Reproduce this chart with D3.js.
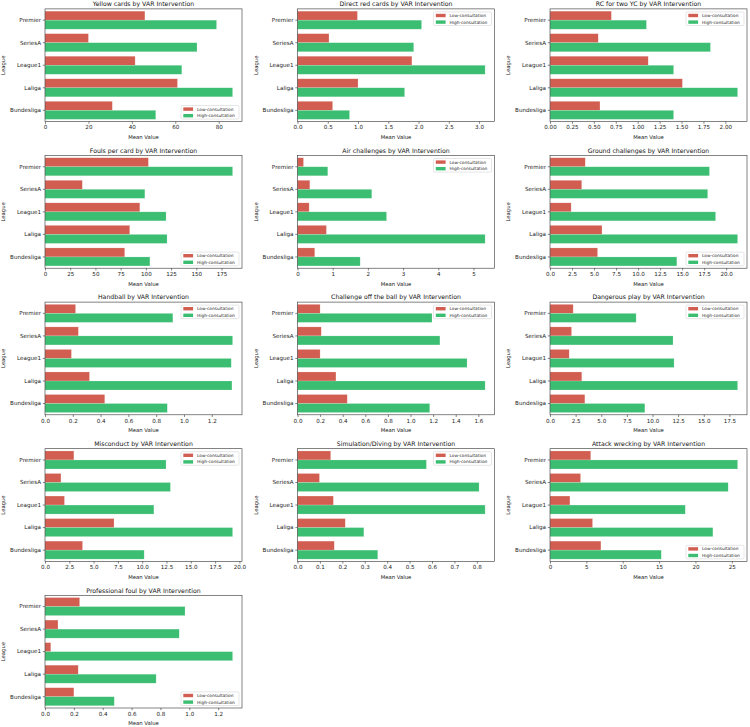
<!DOCTYPE html>
<html>
<head>
<meta charset="utf-8">
<script src="https://cdn.jsdelivr.net/npm/d3@7"></script>
<style>
  body { margin: 0; background: #fff; }
  svg { display: block; font-family: "DejaVu Sans", sans-serif; }
</style>
</head>
<body>
<div id="chart"></div>
<script>
const leagues = ["Premier", "SeriesA", "League1", "Laliga", "Bundesliga"];
const series = ["Low-consultation", "High-consultation"];
const metrics = [
    "Yellow cards", "Direct red cards", "RC for two YC",
    "Fouls per card", "Air challenges", "Ground challenges",
    "Handball", "Challenge off the ball", "Dangerous play",
    "Misconduct", "Simulation/Diving", "Attack wrecking",
    "Professional foul"
];
const lowConsult = [
    [46, 20, 41.5, 61, 31],
    [0.99, 0.52, 1.89, 1.00, 0.58],
    [0.70, 0.55, 1.12, 1.51, 0.57],
    [102.5, 37, 94, 84, 79],
    [0.17, 0.35, 0.33, 0.82, 0.49],
    [4.0, 3.6, 2.4, 5.9, 5.4],
    [0.22, 0.24, 0.19, 0.32, 0.43],
    [0.20, 0.21, 0.20, 0.34, 0.44],
    [2.26, 2.1, 1.87, 3.1, 3.4],
    [2.97, 1.64, 2.0, 7.1, 3.86],
    [0.148, 0.098, 0.16, 0.213, 0.164],
    [5.6, 4.2, 2.74, 5.85, 7.0],
    [0.24, 0.09, 0.04, 0.23, 0.20]
];
const highConsult = [
    [79, 70, 63, 86.4, 51],
    [2.05, 1.92, 3.10, 1.77, 0.86],
    [1.10, 1.83, 1.41, 2.14, 1.41],
    [186, 99, 120, 121, 104],
    [0.86, 2.11, 2.53, 5.33, 1.78],
    [18.1, 17.9, 18.8, 21.3, 14.4],
    [0.92, 1.35, 1.34, 1.345, 0.88],
    [1.19, 1.26, 1.50, 1.66, 1.17],
    [8.4, 12.0, 12.1, 18.3, 9.25],
    [12.45, 12.9, 11.2, 19.3, 10.2],
    [0.575, 0.81, 0.837, 0.296, 0.358],
    [25.8, 24.5, 18.6, 22.4, 15.3],
    [0.97, 0.93, 1.30, 0.77, 0.48]
];
const xTicks = [
    [0, 20, 40, 60, 80],
    [0, 0.5, 1, 1.5, 2, 2.5, 3],
    [0, 0.25, 0.5, 0.75, 1, 1.25, 1.5, 1.75, 2],
    [0, 25, 50, 75, 100, 125, 150, 175],
    [0, 1, 2, 3, 4, 5],
    [0, 2.5, 5, 7.5, 10, 12.5, 15, 17.5, 20],
    [0, 0.2, 0.4, 0.6, 0.8, 1, 1.2],
    [0, 0.2, 0.4, 0.6, 0.8, 1, 1.2, 1.4, 1.6],
    [0, 2.5, 5, 7.5, 10, 12.5, 15, 17.5],
    [0, 2.5, 5, 7.5, 10, 12.5, 15, 17.5, 20],
    [0, 0.1, 0.2, 0.3, 0.4, 0.5, 0.6, 0.7, 0.8],
    [0, 5, 10, 15, 20, 25],
    [0, 0.2, 0.4, 0.6, 0.8, 1, 1.2]
];
// where matplotlib's "best" put the legend in each panel
const legendLoc = ["lower", "upper", "upper", "lower", "upper", "lower", "upper",
    "upper", "upper", "upper", "upper", "lower", "lower"];

const colors = ["#d15e51", "#3bbe72"];
const width = 750, height = 727;
const colLeft = [45, 297.5, 550];
const plotW = 197, plotH = 112.7;
const rowTop0 = 8.9, rowPitch = 146.6;

const svg = d3.select("#chart").append("svg")
    .attr("width", width)
    .attr("height", height);

function decimalsOf(ticks) {
    let d = 0;
    while (d < 4 && ticks.some(t => Math.abs(Math.round(t * 10 ** d) - t * 10 ** d) > 1e-6)) d++;
    return d;
}

metrics.forEach((metric, i) => {
    const left = colLeft[i % 3];
    const top = rowTop0 + Math.floor(i / 3) * rowPitch;
    const bottom = top + plotH;
    const low = lowConsult[i], high = highConsult[i];
    const maxVal = d3.max(low.concat(high));

    const x = d3.scaleLinear()
        .domain([0, maxVal * 1.05])
        .range([left, left + plotW]);
    const y = d3.scaleBand()
        .domain(leagues)
        .range([top, bottom])
        .paddingInner(0.2)
        .paddingOuter(0.1);
    const ySub = d3.scaleBand()
        .domain(series)
        .range([0, y.bandwidth()]);

    const g = svg.append("g");

    const rows = leagues.map((lg, j) => ({ league: lg, values: [low[j], high[j]] }));
    g.selectAll("g.league")
        .data(rows)
        .join("g")
        .attr("class", "league")
        .attr("transform", d => `translate(0,${y(d.league)})`)
        .selectAll("rect")
        .data(d => d.values.map((v, k) => ({ key: series[k], value: v, k })))
        .join("rect")
        .attr("x", x(0))
        .attr("y", d => ySub(d.key))
        .attr("width", d => x(d.value) - x(0))
        .attr("height", ySub.bandwidth())
        .attr("fill", d => colors[d.k])
        .attr("stroke", "#ffffff")
        .attr("stroke-opacity", 0.35)
        .attr("stroke-width", 0.5);

    // frame
    g.append("rect")
        .attr("x", left)
        .attr("y", top)
        .attr("width", plotW)
        .attr("height", plotH)
        .attr("fill", "none")
        .attr("stroke", "#333")
        .attr("stroke-width", 0.6);

    const dec = decimalsOf(xTicks[i]);
    const xAxis = g.append("g")
        .attr("transform", `translate(0,${bottom})`)
        .call(d3.axisBottom(x)
            .tickValues(xTicks[i])
            .tickFormat(d => d.toFixed(dec))
            .tickSize(2.2)
            .tickPadding(1.6));
    const yAxis = g.append("g")
        .attr("transform", `translate(${left},0)`)
        .call(d3.axisLeft(y).tickSize(2.2).tickPadding(1.8));
    [xAxis, yAxis].forEach(ax => {
        ax.select(".domain").remove();
        ax.selectAll(".tick line").attr("stroke", "#333").attr("stroke-width", 0.6);
        ax.selectAll(".tick text")
            .attr("fill", "#222")
            .style("font-size", "5.6px")
            .style("font-family", "DejaVu Sans, sans-serif");
    });

    g.append("text")
        .attr("x", left + plotW / 2)
        .attr("y", top - 2.7)
        .attr("text-anchor", "middle")
        .attr("fill", "#111")
        .style("font-size", "6.2px")
        .text(`${metric} by VAR Intervention`);

    g.append("text")
        .attr("x", left + plotW / 2)
        .attr("y", bottom + 17.4)
        .attr("text-anchor", "middle")
        .attr("fill", "#111")
        .style("font-size", "5.3px")
        .text("Mean Value");

    g.append("text")
        .attr("transform", `translate(${left - 39.6},${top + plotH / 2}) rotate(-90)`)
        .attr("text-anchor", "middle")
        .attr("fill", "#111")
        .style("font-size", "5.3px")
        .text("League");

    // legend
    const legW = 58, legH = 13.6;
    const legX = left + plotW - 3 - legW;
    const legY = legendLoc[i] === "upper" ? top + 3 : bottom - 2.5 - legH;
    const leg = g.append("g").attr("transform", `translate(${legX},${legY})`);
    leg.append("rect")
        .attr("width", legW)
        .attr("height", legH)
        .attr("rx", 1.2)
        .attr("fill", "#fff")
        .attr("fill-opacity", 0.8)
        .attr("stroke", "#ccc")
        .attr("stroke-width", 0.5);
    series.forEach((s, k) => {
        const cy = 3.6 + k * 6.6;
        leg.append("rect")
            .attr("x", 2.3)
            .attr("y", cy - 1.7)
            .attr("width", 9.8)
            .attr("height", 3.4)
            .attr("fill", colors[k]);
        leg.append("text")
            .attr("x", 16)
            .attr("y", cy)
            .attr("dy", "0.35em")
            .attr("fill", "#222")
            .style("font-size", "4.3px")
            .text(s);
    });
});
</script>
</body>
</html>
